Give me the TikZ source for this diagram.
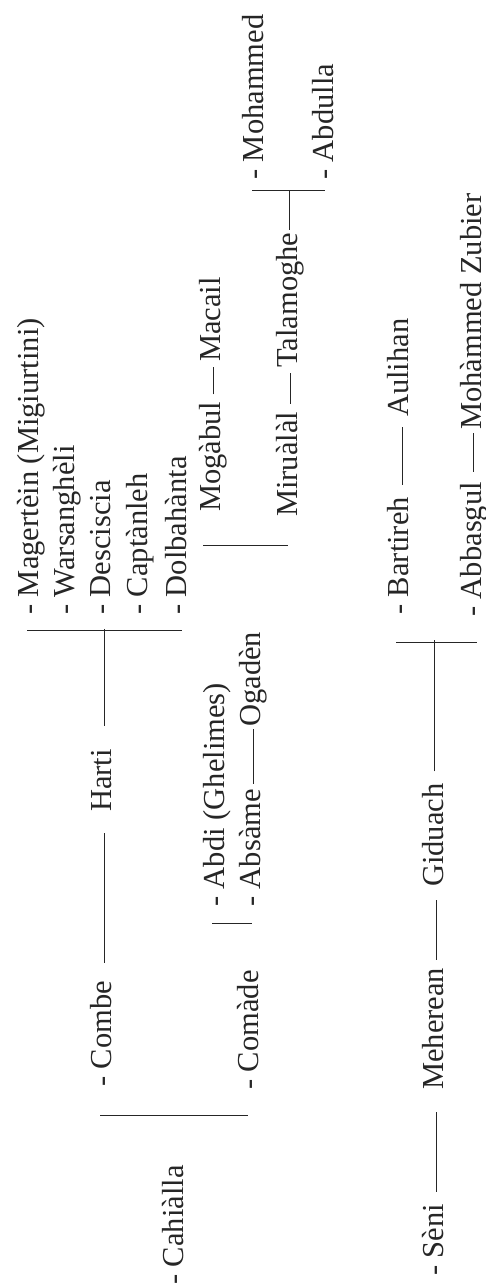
\documentclass[tikz,border=0pt]{standalone}
\usepackage{fontspec}
\setmainfont{Liberation Serif}
\usetikzlibrary{calc}
\begin{document}
\begin{tikzpicture}[x=1pt,y=-1pt,
  lbl/.style={rotate=90,anchor=base west,inner sep=0pt,text=black!85,font=\fontsize{30.5}{36}\selectfont},
  ln/.style={line width=0.9pt,draw=black!85}]
\useasboundingbox[fill=white] (0,0) rectangle (486,1286);
% nodes
\node[lbl] (mag) at (38,615) {- Magertèin (Migiurtini)};
\node[lbl] (war) at (74,615) {- Warsanghèli};
\node[lbl] (des) at (110,615) {- Desciscia};
\node[lbl] (cap) at (147,615) {- Captànleh};
\node[lbl] (dol) at (186,615) {- Dolbahànta};
\node[lbl] (harti) at (111,812) {Harti};
\node[lbl] (combe) at (111,1087) {- Combe};
\node[lbl] (comade) at (258,1090) {- Comàde};
\node[lbl] (cah) at (183,1285) {- Cahiàlla};
\node[lbl] (abdi) at (224,907) {- Abdi (Ghelimes)};
\node[lbl] (absame) at (260,907) {- Absàme};
\node[lbl] (ogaden) at (260,727) {Ogadèn};
\node[lbl] (mogabul) at (220,512) {Mogàbul};
\node[lbl] (macail) at (220,362) {Macail};
\node[lbl] (miru) at (297,517) {Miruàlàl};
\node[lbl] (tala) at (297,368) {Talamoghe};
\node[lbl] (moh) at (263,180) {- Mohammed};
\node[lbl] (abdulla) at (333,180) {- Abdulla};
\node[lbl] (seni) at (443,1276) {- Sèni};
\node[lbl] (meh) at (443,1090) {Meherean};
\node[lbl] (gid) at (443,887) {Giduach};
\node[lbl] (bart) at (408,615) {- Bartireh};
\node[lbl] (aul) at (408,417) {Aulihan};
\node[lbl] (abb) at (481,617) {- Abbasgul};
\node[lbl] (zub) at (481,430) {Mohàmmed Zubier};
% Harti group
\coordinate (hb) at ($(harti.base east)+(-7,-120)$);
\draw[ln] ($(mag.base west)+(-11,15)$) -- ($(dol.base west)+(-4,15)$);
\draw[ln] (hb) -- ($(harti.base east)+(-7,-23)$);
\draw[ln] ($(harti.base west)+(-7,21)$) -- ($(combe.base east)+(-7,-18)$);
\draw[ln] ($(combe.base west)+(-11,28)$) -- ($(comade.base west)+(-10,25)$);
% Abdi / Absame
\draw[ln] ($(abdi.base west)+(-12,16)$) -- ($(absame.base west)+(-8,16)$);
\draw[ln] ($(absame.base east)+(-7,-5)$) -- ($(ogaden.base west)+(-7,2)$);
% Mogabul / Mirualal
\draw[ln] ($(mogabul.base west)+(-17,33)$) -- ($(miru.base west)+(-9,28)$);
\draw[ln] ($(mogabul.base east)+(-7,-7)$) -- ($(macail.base west)+(-7,5)$);
\draw[ln] ($(miru.base east)+(-7,-8)$) -- ($(tala.base west)+(-7,5)$);
\coordinate (tb) at ($(moh.base west)+(26,10)$);
\draw[ln] ($(tala.base east)+(-8,-3)$) -- (tb);
\draw[ln] ($(moh.base west)+(-11,10)$) -- ($(abdulla.base west)+(-8,10)$);
% Seni line
\draw[ln] ($(seni.base east)+(-7,-12)$) -- ($(meh.base west)+(-7,22)$);
\draw[ln] ($(meh.base east)+(-7,-8)$) -- ($(gid.base west)+(-7,13)$);
\coordinate (gb) at ($(gid.base east)+(-9,-143)$);
\draw[ln] ($(gid.base east)+(-9,-12)$) -- (gb);
\draw[ln] ($(bart.base west)+(-12,27)$) -- ($(abb.base west)+(-4,25)$);
\draw[ln] ($(bart.base east)+(-6,-12)$) -- ($(aul.base west)+(-6,10)$);
\draw[ln] ($(abb.base east)+(-8,-10)$) -- ($(zub.base west)+(-8,3)$);
\end{tikzpicture}
\end{document}
